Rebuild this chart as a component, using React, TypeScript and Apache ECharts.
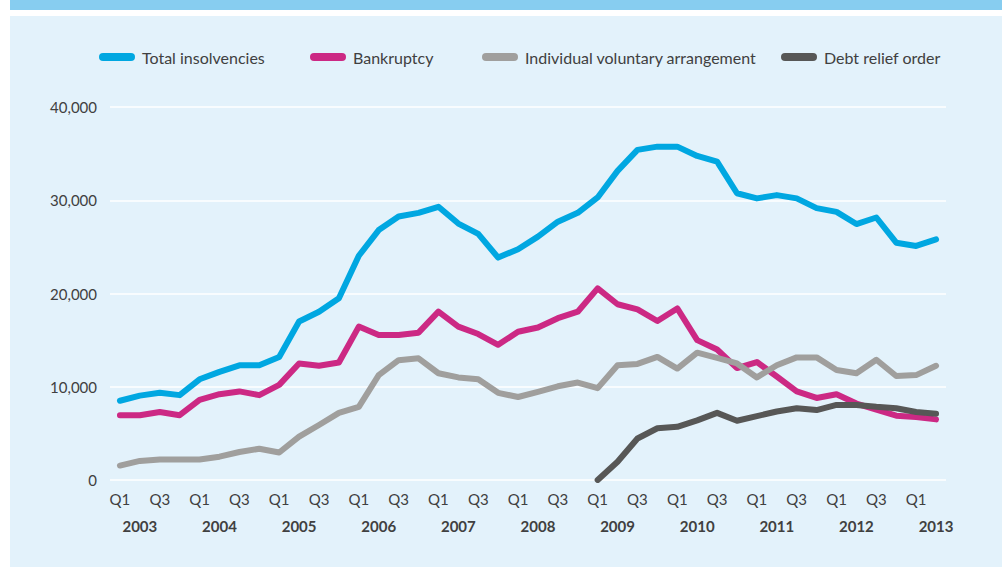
import React, { useEffect, useRef } from "react";
import * as echarts from "echarts";

const quarters = [
  "2003 Q1", "2003 Q2", "2003 Q3", "2003 Q4",
  "2004 Q1", "2004 Q2", "2004 Q3", "2004 Q4",
  "2005 Q1", "2005 Q2", "2005 Q3", "2005 Q4",
  "2006 Q1", "2006 Q2", "2006 Q3", "2006 Q4",
  "2007 Q1", "2007 Q2", "2007 Q3", "2007 Q4",
  "2008 Q1", "2008 Q2", "2008 Q3", "2008 Q4",
  "2009 Q1", "2009 Q2", "2009 Q3", "2009 Q4",
  "2010 Q1", "2010 Q2", "2010 Q3", "2010 Q4",
  "2011 Q1", "2011 Q2", "2011 Q3", "2011 Q4",
  "2012 Q1", "2012 Q2", "2012 Q3", "2012 Q4",
  "2013 Q1", "2013 Q2",
];

const totalInsolvencies = [
  8500, 9050, 9350, 9100, 10800, 11600, 12300, 12300, 13200, 17000, 18050, 19500,
  24050, 26800, 28250, 28650, 29300, 27500, 26400, 23850, 24750, 26100, 27700, 28650,
  30300, 33150, 35400, 35750, 35750, 34750, 34150, 30750, 30200, 30550, 30200, 29150,
  28750, 27450, 28150, 25450, 25100, 25800,
];

const bankruptcy = [
  6950, 6950, 7300, 6950, 8600, 9200, 9500, 9100, 10200, 12500, 12250, 12600,
  16450, 15550, 15550, 15800, 18050, 16450, 15650, 14500, 15900, 16350, 17350, 18050,
  20550, 18850, 18300, 17050, 18400, 15000, 14000, 12000, 12650, 11100, 9500, 8800,
  9200, 8200, 7550, 6900, 6750, 6500,
];

const iva = [
  1550, 2050, 2200, 2200, 2200, 2500, 3000, 3350, 2950, 4650, 5900, 7200,
  7850, 11250, 12850, 13050, 11450, 11000, 10800, 9350, 8900, 9450, 10050, 10450,
  9850, 12300, 12450, 13200, 11950, 13650, 13100, 12500, 11000, 12300, 13150, 13150,
  11800, 11450, 12900, 11150, 11250, 12250,
];

const debtReliefOrder = [
  null, null, null, null, null, null, null, null, null, null, null, null,
  null, null, null, null, null, null, null, null, null, null, null, null,
  0, 1950, 4450, 5550, 5700, 6400, 7200, 6350, 6850, 7350, 7700, 7500,
  8050, 8050, 7850, 7700, 7300, 7100,
];

const yTicks = [0, 10000, 20000, 30000, 40000];

const seriesNames = [
  "Total insolvencies",
  "Bankruptcy",
  "Individual voluntary arrangement",
  "Debt relief order",
];
const seriesColors = ["#00a7e1", "#cc2984", "#a09f9d", "#575756"];
const legendLefts = [99, 310, 482, 781];

const FONT = "Lato, 'Open Sans', sans-serif";
const TEXT = "#404040";
const PILL = "path://M4,0 L32,0 A4,4 0 0 1 32,8 L4,8 A4,4 0 0 1 4,0 Z";

export default function App() {
  const ref = useRef<HTMLDivElement>(null);

  useEffect(() => {
    if (!ref.current) return;
    const chart = echarts.init(ref.current, null, { renderer: "svg" });
    const dataSets = [totalInsolvencies, bankruptcy, iva, debtReliefOrder];

    chart.setOption({
      animation: false,
      textStyle: { fontFamily: FONT },
      graphic: {
        elements: [
          {
            type: "rect",
            z: -100,
            silent: true,
            shape: { x: 10, y: 0, width: 992, height: 10 },
            style: { fill: "#87cdf0" },
          },
          {
            type: "rect",
            z: -100,
            silent: true,
            shape: { x: 10, y: 16, width: 992, height: 551 },
            style: { fill: "#e3f2fb" },
          },
        ],
      },
      legend: seriesNames.map((name, i) => ({
        data: [name],
        left: legendLefts[i],
        top: 49,
        padding: 0,
        icon: PILL,
        itemWidth: 36,
        itemHeight: 8,
        selectedMode: false,
        itemStyle: { borderWidth: 0 },
        textStyle: {
          fontFamily: FONT,
          fontSize: 16,
          color: TEXT,
          lineHeight: 16,
          padding: [0, 0, 0, 2],
        },
      })),
      grid: { left: 110, right: 56, top: 107, bottom: 87, containLabel: false },
      xAxis: [
        {
          type: "category",
          data: quarters,
          boundaryGap: true,
          axisLine: { show: false },
          axisTick: { show: false },
          axisLabel: {
            interval: 1,
            margin: 11,
            fontSize: 15,
            color: TEXT,
            fontFamily: FONT,
            formatter: (v: string) => v.split(" ")[1],
          },
        },
        {
          type: "category",
          data: quarters,
          boundaryGap: true,
          position: "bottom",
          offset: 27,
          axisLine: { show: false },
          axisTick: { show: false },
          axisLabel: {
            interval: 0,
            margin: 11,
            fontSize: 15,
            fontWeight: "bold",
            color: TEXT,
            fontFamily: FONT,
            formatter: (v: string) => {
              const [yr, q] = v.split(" ");
              return q === "Q2" ? yr : "";
            },
          },
        },
      ],
      yAxis: {
        type: "value",
        min: yTicks[0],
        max: yTicks[yTicks.length - 1],
        interval: 10000,
        axisLine: { show: false },
        axisTick: { show: false },
        splitLine: { lineStyle: { color: "#ffffff", width: 1.5 } },
        axisLabel: {
          margin: 13,
          fontSize: 15,
          color: TEXT,
          fontFamily: FONT,
          formatter: (v: number) => v.toLocaleString("en-GB"),
        },
      },
      series: seriesNames.map((name, i) => ({
        name,
        type: "line",
        xAxisIndex: 0,
        data: dataSets[i],
        symbol: "none",
        color: seriesColors[i],
        itemStyle: { color: seriesColors[i] },
        lineStyle: { width: 6, color: seriesColors[i], cap: "round", join: "round" },
        z: 2 + (i === 0 ? 4 : i),
      })),
    });

    return () => chart.dispose();
  }, []);

  return (
    <div
      ref={ref}
      style={{
        position: "fixed",
        left: 0,
        top: 0,
        width: 1002,
        height: 567,
        background: "#ffffff",
      }}
    />
  );
}
